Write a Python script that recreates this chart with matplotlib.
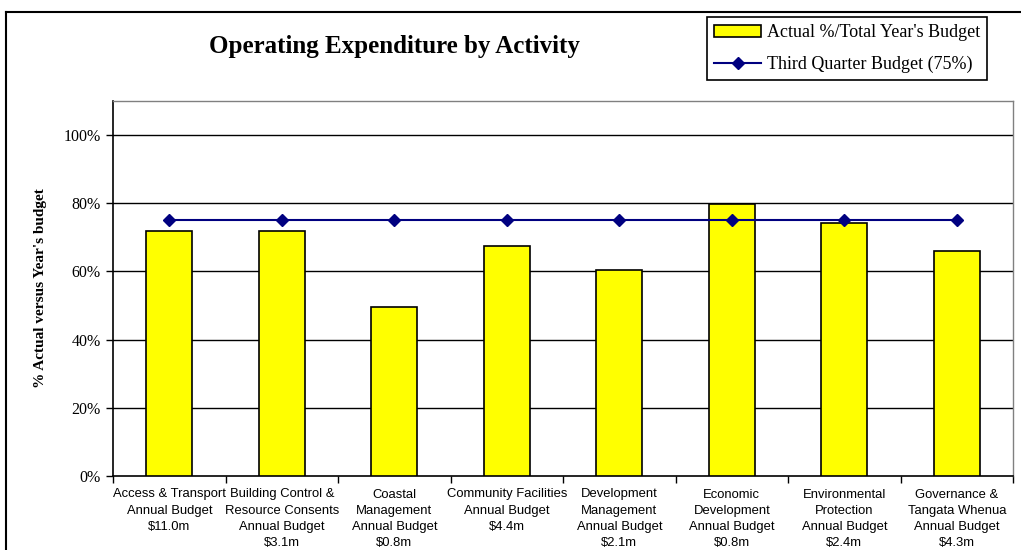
import matplotlib.pyplot as plt
import numpy as np
from matplotlib.lines import Line2D
from matplotlib.ticker import FixedLocator, PercentFormatter

activities = ['Access & Transport\nAnnual Budget\n$11.0m',
              'Building Control &\nResource Consents\nAnnual Budget\n$3.1m',
              'Coastal\nManagement\nAnnual Budget\n$0.8m',
              'Community Facilities\nAnnual Budget\n$4.4m',
              'Development\nManagement\nAnnual Budget\n$2.1m',
              'Economic\nDevelopment\nAnnual Budget\n$0.8m',
              'Environmental\nProtection\nAnnual Budget\n$2.4m',
              'Governance &\nTangata Whenua\nAnnual Budget\n$4.3m']
actual_pct = [71.8, 71.8, 49.5, 67.6, 60.4, 79.9, 74.1, 65.9]
quarter_pct = [75, 75, 75, 75, 75, 75, 75, 75]
y_ticks = [0, 20, 40, 60, 80, 100]

serif = 'Liberation Serif'
sans = 'Liberation Sans'

fig = plt.figure(figsize=(10.21, 5.5), dpi=100)
ax = fig.add_axes([113 / 1021, 1 - 476 / 550, 900 / 1021, 375 / 550])

x = np.arange(len(activities))
bars = ax.bar(x, actual_pct, width=0.41, color='#ffff00', edgecolor='black',
              linewidth=1.2, zorder=3, label="Actual %/Total Year's Budget")
line, = ax.plot(x, quarter_pct, color='#000080', lw=1.5, marker='D',
                markersize=6, zorder=4, label='Third Quarter Budget (75%)')

ax.set_xlim(-0.5, len(activities) - 0.5)
ax.set_ylim(0, 110)
ax.set_yticks(y_ticks)
ax.yaxis.set_major_formatter(PercentFormatter(decimals=0))
for t in y_ticks[1:]:
    ax.axhline(t, color='black', lw=1, zorder=1)

ax.set_xticks(x)
ax.set_xticklabels(activities, fontfamily=sans, fontsize=9.4, linespacing=1.45)
ax.xaxis.set_minor_locator(FixedLocator(np.arange(-0.5, len(activities), 1)))
ax.tick_params(axis='x', which='major', length=0, pad=9)
ax.tick_params(axis='x', which='minor', length=5, width=1, direction='out')
ax.tick_params(axis='y', length=5, width=1, direction='out', pad=4)
for lab in ax.get_yticklabels():
    lab.set_fontfamily(serif)
    lab.set_fontsize(11.5)

for s in ['left', 'bottom']:
    ax.spines[s].set_color('black')
    ax.spines[s].set_linewidth(1.2)
for s in ['top', 'right']:
    ax.spines[s].set_color('#808080')
    ax.spines[s].set_linewidth(1)

ax.set_ylabel("% Actual versus Year's budget", fontfamily=serif,
              fontsize=11, fontweight='bold', labelpad=12)

fig.text(394 / 1021, 1 - 47 / 550, 'Operating Expenditure by Activity',
         ha='center', va='center', fontfamily=serif, fontsize=18,
         fontweight='bold')

leg = fig.legend(handles=[bars, line], loc='upper left',
                 bbox_to_anchor=(707 / 1021, 1 - 17 / 550),
                 prop={'family': serif, 'size': 13}, frameon=True,
                 fancybox=False, edgecolor='black', framealpha=1,
                 handlelength=2.6, labelspacing=0.8, borderpad=0.4,
                 handletextpad=0.3, borderaxespad=0)
leg.get_frame().set_linewidth(1.2)

# outer chart frame (left and top edges visible)
fig.add_artist(Line2D([5.5 / 1021, 5.5 / 1021], [0, 1 - 12 / 550],
                      transform=fig.transFigure, color='black', lw=1.5))
fig.add_artist(Line2D([5.5 / 1021, 1], [1 - 12 / 550, 1 - 12 / 550],
                      transform=fig.transFigure, color='black', lw=1.5))

fig.savefig('out.png', dpi=100)
